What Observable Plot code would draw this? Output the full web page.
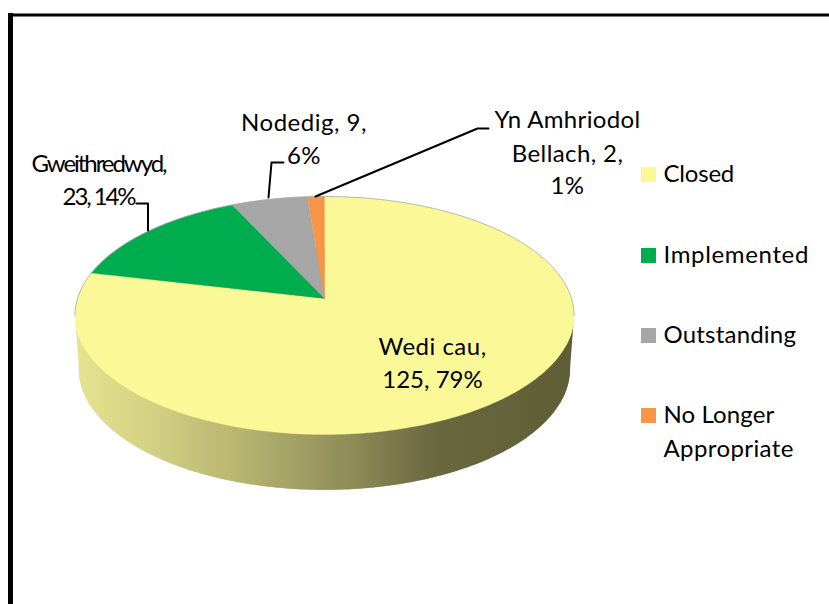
<!DOCTYPE html>
<html><head><meta charset="utf-8">
<style>html,body{margin:0;padding:0;background:#fff}svg{display:block}</style>
<script src="https://cdn.jsdelivr.net/npm/d3@7"></script>
<script src="https://cdn.jsdelivr.net/npm/@observablehq/plot@0.6"></script>
</head><body><script>
const categories = ["Closed","Implemented","Outstanding","No Longer Appropriate"];
const values = [125,23,9,2];
const colors = ["#FBF898","#00AC4E","#A6A6A6","#F79646"];
const dataLabels = [["Wedi cau,","125, 79%"],["Gweithredwyd,","23, 14%"],["Nodedig, 9,","6%"],["Yn Amhriodol","Bellach, 2,","1%"]];
const legendLines = [["Closed"],["Implemented"],["Outstanding"],["No Longer","Appropriate"]];

// layout (not data)
const labelAnchors = [[432,354],[98,171],[303.5,130],[567,127]];
const legendTop = [182,263,343,423];
const labelGap = [[33],[33],[33],[34,32]];
const leaders = [
  [[136,203],[147.5,203],[147.5,230]],
  [[283,162],[271,162],[268,197]],
  [[488,128],[477,128],[315,196]]
];
const spacing = {"Gweithredwyd,":-2.05,"23, 14%":-2.1,"Implemented":0.65,"Closed":-0.2,"Outstanding":0.2,"No Longer":0.1,"Appropriate":0.4,"Yn Amhriodol":0.35,"Nodedig, 9,":0.5,"Bellach, 2,":0.4,"Wedi cau,":0.5,"125, 79%":0,"6%":0.4,"1%":0.4};

const total = d3.sum(values);
const persp = (ax,ay,A,B,k) => t => {
  const u=Math.sin(t), w=Math.cos(t), d=1+k*w;
  return [ax+A*u/d, ay-B*w/d];
};
const cx=324;
const topFace = persp(cx,298,247,116.6,1/7);
const baseFace = persp(cx,351,243,118.5,1/7);

const arcs = d3.pie().sort(null).startAngle(0).endAngle(2*Math.PI)(values);
const slices = [];
arcs.forEach((a,i)=>{
  const n=Math.max(4,Math.ceil((a.endAngle-a.startAngle)*60));
  slices.push({category:categories[i],p:[cx,298]});
  for(let j=0;j<=n;j++){
    slices.push({category:categories[i],p:topFace(a.startAngle+(a.endAngle-a.startAngle)*j/n)});
  }
  slices.push({category:categories[i],p:[cx,298]});
});

const tan = Math.acos(-1/7), wall=[];
for(let j=0;j<=200;j++) wall.push(topFace(tan+(2*Math.PI-2*tan)*j/200));
for(let j=200;j>=0;j--) wall.push(baseFace(tan+(2*Math.PI-2*tan)*j/200));
const base=[];
for(let j=0;j<=360;j++) base.push(baseFace(j*Math.PI/180));
const rim=[];
for(let j=0;j<=200;j++) rim.push(topFace(-tan+2*tan*j/200));

const labelRows=[];
dataLabels.forEach((ls,i)=>{
  let y=labelAnchors[i][1];
  ls.forEach((t,j)=>{
    labelRows.push({t,x:labelAnchors[i][0],y});
    y+=labelGap[i][j]||0;
  });
});
const legendRows=[];
legendLines.forEach((ls,i)=>ls.forEach((t,j)=>legendRows.push({t,x:663,y:legendTop[i]+j*34})));
const swatches=categories.map((c,i)=>({c,x1:641,x2:656,y1:legendTop[i]-15,y2:legendTop[i]}));
const leaderRows=leaders.flatMap((l,i)=>l.map(p=>({i,x:p[0],y:p[1]})));

const defs = () => {
  const ns="http://www.w3.org/2000/svg";
  const d=document.createElementNS(ns,"defs");
  const g=document.createElementNS(ns,"linearGradient");
  g.setAttribute("id","wall");g.setAttribute("gradientUnits","userSpaceOnUse");
  g.setAttribute("x1",75);g.setAttribute("x2",574);g.setAttribute("y1",0);g.setAttribute("y2",0);
  [[0,"#E6E48E"],[0.15,"#D3D183"],[0.35,"#B3B16E"],[0.55,"#8E8C58"],[0.72,"#6A683F"],[1,"#5F5D35"]].forEach(([o,c])=>{
    const s=document.createElementNS(ns,"stop");s.setAttribute("offset",o);s.setAttribute("stop-color",c);g.appendChild(s);
  });
  d.appendChild(g);return d;
};

const font="Lato, Carlito, sans-serif";
const chart = Plot.plot({
  width:829,height:604,margin:0,
  style:{background:"#fff",fontFamily:font},
  x:{type:"identity",axis:null},
  y:{type:"identity",axis:null},
  color:{domain:categories,range:colors},
  marks:[
    defs,
    Plot.ruleX([10],{y1:()=>13,y2:()=>604,stroke:"#000",strokeWidth:5}),
    Plot.ruleY([14.5],{x1:()=>8,x2:()=>829,stroke:"#000",strokeWidth:3.2}),
    Plot.line(base,{x:d=>d[0],y:d=>d[1],fill:"url(#wall)",stroke:"#c8c8bc",strokeWidth:0.5}),
    Plot.line(wall,{x:d=>d[0],y:d=>d[1],fill:"url(#wall)",stroke:"none"}),
    Plot.line(slices,{x:d=>d.p[0],y:d=>d.p[1],z:"category",fill:"category",stroke:"category",strokeWidth:0.3,curve:"linear"}),
    Plot.line(rim,{x:d=>d[0],y:d=>d[1],stroke:"#a8a8a0",strokeWidth:0.8}),
    Plot.line(leaderRows,{x:"x",y:"y",z:"i",stroke:"#000",strokeWidth:2}),
    Plot.text(labelRows,{x:"x",y:"y",text:"t",textAnchor:"middle",lineAnchor:"bottom",fontSize:24,fill:"#000"}),
    Plot.rect(swatches,{x1:"x1",x2:"x2",y1:"y1",y2:"y2",fill:"c"}),
    Plot.text(legendRows,{x:"x",y:"y",text:"t",textAnchor:"start",lineAnchor:"bottom",fontSize:24,fill:"#000",dy:-1})
  ]
});
chart.querySelectorAll("text").forEach(n=>{
  const s=spacing[n.textContent];
  if(s!=null) n.style.letterSpacing=s+"px";
});
document.body.appendChild(chart);
</script></body></html>
